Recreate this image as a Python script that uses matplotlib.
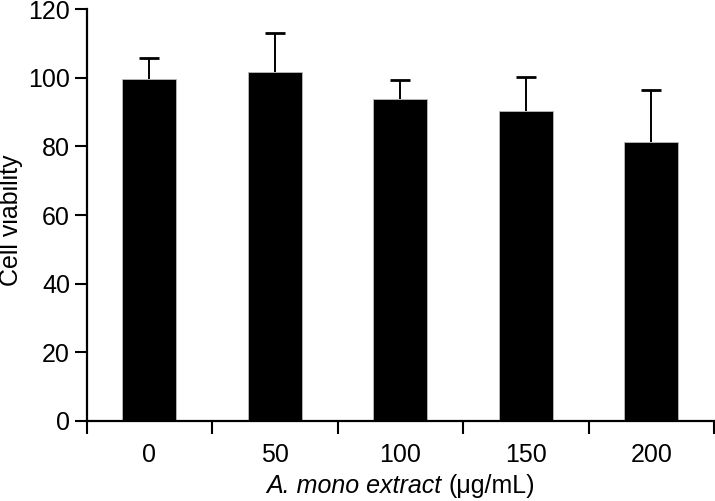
import numpy as np
import matplotlib.pyplot as plt
from matplotlib.offsetbox import TextArea, HPacker, AnchoredOffsetbox

plt.rcParams["font.family"] = ["Liberation Sans", "DejaVu Sans"]

# Data
doses = ["0", "50", "100", "150", "200"]
viability = [99.6, 101.8, 93.8, 90.4, 81.2]
sd = [6.2, 11.3, 5.6, 10.0, 15.4]

x = np.arange(len(doses))
tops = np.array(viability) + np.array(sd)

fig = plt.figure(figsize=(7.15, 5.01), dpi=100)
ax = fig.add_axes([0.1213, 0.1603, 0.8773, 0.8211])

# upper-only error bars: stem + cap, drawn behind the bars
ax.vlines(x, viability, tops, color="black", linewidth=1.4, zorder=1)
ax.plot(x, tops, linestyle="none", marker="_", markersize=14,
        markeredgewidth=2.0, color="black", zorder=1)
ax.bar(x, viability, width=0.43, color="black", edgecolor="#bbbbbb",
       linewidth=0.6, zorder=2)

ax.set_xlim(-0.5, len(doses) - 0.5)
ax.set_ylim(0, 120)
ax.set_yticks(np.arange(0, 121, 20))
ax.set_xticks(np.arange(-0.5, len(doses), 1.0))
ax.set_xticklabels([])
ax.set_xticks(x, minor=True)
ax.set_xticklabels(doses, minor=True)
ax.tick_params(axis="x", which="minor", length=0, labelsize=18, pad=16)
ax.tick_params(axis="x", which="major", direction="out", length=9, width=1.5)
ax.tick_params(axis="y", direction="out", length=9, width=1.5, labelsize=18, pad=3)

for side in ["top", "right"]:
    ax.spines[side].set_visible(False)
for side in ["left", "bottom"]:
    ax.spines[side].set_linewidth(1.6)

fig.text(11 / 715, 1 - 220 / 501, "Cell viability", fontsize=18, rotation=90,
         ha="center", va="center")

# x label: italic name followed by upright unit
part1 = TextArea("A. mono extract", textprops=dict(fontsize=18, fontstyle="italic"))
part2 = TextArea("(μg/mL)", textprops=dict(fontsize=18))
label = HPacker(children=[part1, part2], align="baseline", pad=0, sep=5)
box = AnchoredOffsetbox(loc="upper center", child=label, pad=0, frameon=False,
                        bbox_to_anchor=(0.5, -0.13), bbox_transform=ax.transAxes,
                        borderpad=0)
ax.add_artist(box)

fig.savefig("out.png", dpi=100)
